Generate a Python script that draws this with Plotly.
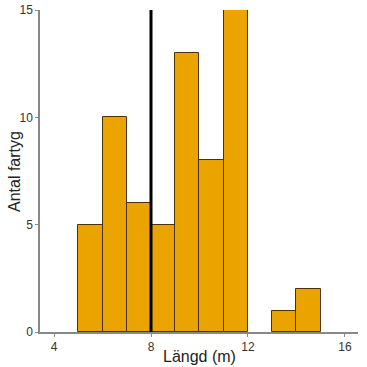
import plotly.graph_objects as go

bin_starts = [5, 6, 7, 8, 9, 10, 11, 12, 13, 14]
counts = [5, 10, 6, 5, 13, 8, 15, 0, 1, 2]
ref_line_x = 8
x_ticks = [4, 8, 12, 16]
y_ticks = [0, 5, 10, 15]
x_title = "Längd (m)"
y_title = "Antal fartyg"

centers = [b + 0.5 for b in bin_starts]
outline_widths = [1 if c > 0 else 0 for c in counts]

fig = go.Figure()
fig.add_trace(go.Bar(
    x=centers, y=counts, width=1,
    marker=dict(color="#EBA300", line=dict(color="#4a3300", width=outline_widths)),
    showlegend=False, hoverinfo="skip",
))
fig.add_trace(go.Scatter(
    x=[ref_line_x, ref_line_x], y=[0, 15], mode="lines",
    line=dict(color="black", width=3), showlegend=False, hoverinfo="skip",
))

fig.update_layout(
    width=367, height=367,
    margin=dict(l=40, r=9, t=10, b=35),
    paper_bgcolor="white", plot_bgcolor="white",
    font=dict(family="Liberation Sans, Arial, sans-serif", color="#222"),
    bargap=0,
    xaxis=dict(
        range=[3.42, 16.54], tickvals=x_ticks, ticks="outside", ticklen=3,
        tickcolor="#888", showline=True, linecolor="#888", linewidth=1.5,
        showgrid=False, zeroline=False, automargin=False,
        tickfont=dict(size=12, color="#333"),
    ),
    yaxis=dict(
        range=[0, 15], tickvals=y_ticks, ticks="outside", ticklen=3,
        tickcolor="#888", showline=True, linecolor="#888", linewidth=1.5,
        showgrid=False, zeroline=False, automargin=False,
        tickfont=dict(size=12, color="#333"),
    ),
    annotations=[
        dict(text=x_title, xref="paper", yref="paper", x=0.5, y=-0.075,
             xanchor="center", yanchor="middle", showarrow=False,
             font=dict(size=16, color="#222")),
        dict(text=y_title, xref="paper", yref="paper", x=-0.0818, y=0.5,
             xanchor="center", yanchor="middle", showarrow=False, textangle=-90,
             font=dict(size=16, color="#222")),
    ],
)

fig.write_html("out.html", config={"displayModeBar": False})

with open("out.html", "r", encoding="utf-8") as f:
    html = f.read()
html = html.replace("<body>", '<body style="margin:0;overflow:hidden">', 1)
with open("out.html", "w", encoding="utf-8") as f:
    f.write(html)
